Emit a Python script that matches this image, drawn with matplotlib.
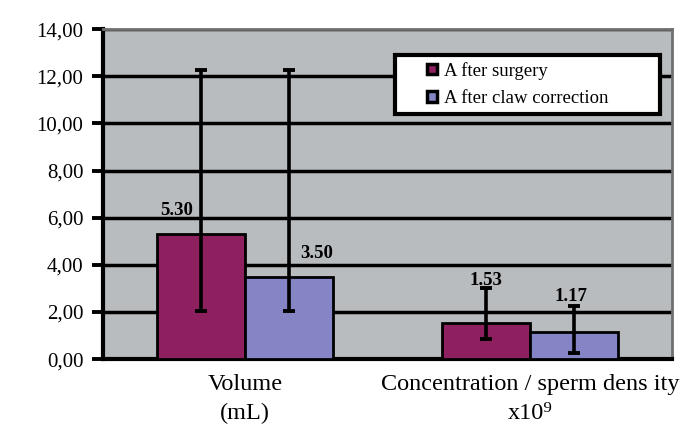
import matplotlib
matplotlib.use("Agg")
import matplotlib.pyplot as plt
import numpy as np

plt.rcParams['font.family'] = ['Liberation Serif', 'DejaVu Serif']

categories = ["Volume\n(mL)", "Concentration / sperm dens ity\nx10⁹"]
series_names = ["A fter surgery", "A fter claw correction"]
means = {
    "A fter surgery": [5.30, 1.53],
    "A fter claw correction": [3.50, 1.17],
}
# error bar ends (low, high)
err_low = {
    "A fter surgery": [2.05, 0.85],
    "A fter claw correction": [2.05, 0.25],
}
err_high = {
    "A fter surgery": [12.25, 3.0],
    "A fter claw correction": [12.25, 2.25],
}
value_labels = {
    "A fter surgery": ["5.30", "1.53"],
    "A fter claw correction": ["3.50", "1.17"],
}
colors = ["#8e2060", "#8585c6"]

fig = plt.figure(figsize=(6.86, 4.29), dpi=100)
ax = fig.add_axes([0.150, 0.163, 0.830, 0.769])
ax.set_facecolor("#b9bcbe")

x = np.arange(len(categories))
w = 0.31
# label offsets (x in category units, y in data units)
lab_off = {
    "A fter surgery": [(-0.087, 1.02), (0.0, 1.80)],
    "A fter claw correction": [(0.095, 1.0), (-0.01, 1.5)],
}
for i, name in enumerate(series_names):
    xs = x + (i - 0.5) * w
    vals = np.array(means[name])
    lo = vals - np.array(err_low[name])
    hi = np.array(err_high[name]) - vals
    ax.bar(xs, vals, width=w, color=colors[i], edgecolor="black",
           linewidth=2, label=name, zorder=3)
    ax.errorbar(xs, vals, yerr=[lo, hi], fmt="none", ecolor="black",
                elinewidth=2.6, capsize=4.5, capthick=2.8, zorder=4)
    for j, xv in enumerate(xs):
        dx, dy = lab_off[name][j]
        ax.text(xv + dx, vals[j] + dy, value_labels[name][j], ha="center",
                va="center", fontsize=13.5, fontweight="bold", zorder=3.5)

ax.set_xlim(-0.5, 1.5)
ax.set_ylim(0, 14)
ax.set_yticks(np.arange(0, 15, 2))
ax.set_yticklabels([("%.2f" % v).replace(".", ",") for v in np.arange(0, 15, 2)],
                   fontsize=15)
ax.set_xticks(x)
ax.set_xticklabels(categories, fontsize=17.5, linespacing=1.45)
ax.tick_params(axis="x", length=0, pad=11)
ax.tick_params(axis="y", length=8, width=2.8, direction="out", pad=6)

ax.yaxis.grid(True, color="black", linewidth=2.5, zorder=1)
ax.set_axisbelow(True)
for s in ["left", "bottom"]:
    ax.spines[s].set_linewidth(3)
    ax.spines[s].set_color("black")
for s in ["top", "right"]:
    ax.spines[s].set_linewidth(2)
    ax.spines[s].set_color("#707070")

leg = ax.legend(loc="upper left", bbox_to_anchor=(0.513, 0.733, 0.466, 0.188),
                mode="expand", fontsize=13.5, frameon=True, fancybox=False,
                handlelength=3.0, handleheight=0.7, handletextpad=-0.72,
                borderpad=0.35, labelspacing=0.55, borderaxespad=0)
leg.get_frame().set_edgecolor("black")
leg.get_frame().set_linewidth(3)
leg.get_frame().set_facecolor("white")
leg.get_frame().set_alpha(1)
for h in leg.legend_handles:
    h.set_edgecolor("black")
    h.set_linewidth(2.5)
    oh = h.get_height()
    h.set_x(18)
    h.set_width(7.5)
    h.set_y(h.get_y() + (oh - 7.5) / 2)
    h.set_height(7.5)

fig.savefig("out.png", dpi=100)
